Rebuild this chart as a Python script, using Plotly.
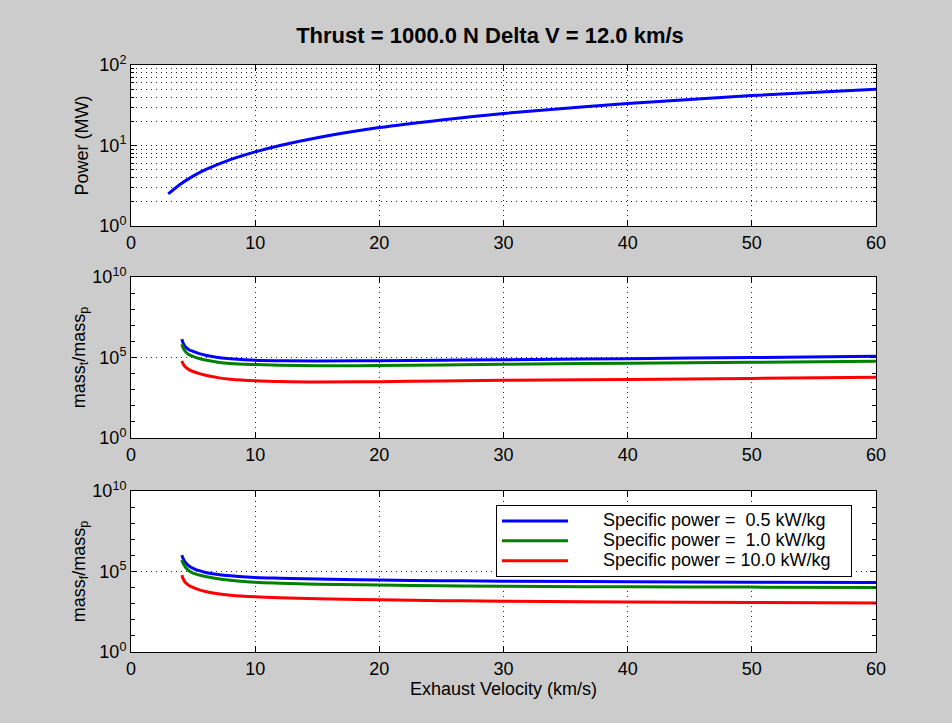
import plotly.graph_objects as go

# ---------------- data ----------------
v_power = [3, 4, 5, 6, 8, 10, 12, 15, 20, 25, 30, 40, 50, 60]
power_mw = [2.5, 3.33, 4.17, 5.0, 6.67, 8.33, 10.0, 12.5, 16.7, 20.8, 25.0, 33.3, 41.7, 50.0]

v_mass = [4.1, 4.2, 4.4, 4.7, 5, 5.5, 6, 7, 8, 10, 12, 15, 20, 25, 30, 40, 50, 60]

# log10 of mass_t/mass_p (middle panel)
mt_log_05 = [6.14, 5.9, 5.65, 5.47, 5.38, 5.24, 5.14, 5.0, 4.93, 4.83, 4.80, 4.79, 4.80, 4.83, 4.86, 4.93, 5.0, 5.07]
mt_log_10 = [5.83, 5.6, 5.35, 5.16, 5.07, 4.94, 4.85, 4.71, 4.63, 4.56, 4.52, 4.49, 4.50, 4.54, 4.58, 4.64, 4.70, 4.77]
mt_log_100 = [4.79, 4.6, 4.4, 4.23, 4.13, 4.0, 3.9, 3.75, 3.65, 3.55, 3.51, 3.48, 3.50, 3.54, 3.58, 3.64, 3.70, 3.77]

# log10 of mass_f/mass_p (bottom panel)
mf_log_05 = [6.02, 5.8, 5.55, 5.33, 5.2, 5.05, 4.94, 4.81, 4.73, 4.63, 4.58, 4.53, 4.47, 4.43, 4.40, 4.37, 4.34, 4.32]
mf_log_10 = [5.73, 5.5, 5.25, 5.03, 4.9, 4.78, 4.69, 4.55, 4.46, 4.33, 4.27, 4.21, 4.16, 4.11, 4.08, 4.05, 4.03, 4.01]
mf_log_100 = [4.78, 4.55, 4.3, 4.12, 4.01, 3.86, 3.76, 3.62, 3.53, 3.43, 3.37, 3.31, 3.24, 3.19, 3.15, 3.10, 3.07, 3.04]

series_names = ["Specific power =  0.5 kW/kg",
                "Specific power =  1.0 kW/kg",
                "Specific power = 10.0 kW/kg"]
series_colors = ["#0000ff", "#008000", "#ff0000"]

x_ticks = [0, 10, 20, 30, 40, 50, 60]

title_text = "Thrust = 1000.0 N Delta V = 12.0 km/s"
x_title = "Exhaust Velocity (km/s)"

# --------------- figure ---------------
W, H = 952, 723
FONT = "Liberation Sans, Arial, Helvetica, sans-serif"
FS = 18

def legend_label(s):
    # keep the double space visible, pad text away from the line sample,
    # and render at full size while the legend rows stay compact
    txt = "\u00a0" * 6 + s.replace("  ", "\u00a0 ") + "\u00a0" * 3
    return '<span style="font-size:18px">' + txt + "</span>"

fig = go.Figure()

fig.add_trace(go.Scatter(x=v_power, y=power_mw, mode="lines", line=dict(color="#0000ff", width=3, shape="spline"),
                         showlegend=False, xaxis="x", yaxis="y"))

for vals, name, col in zip([mt_log_05, mt_log_10, mt_log_100], series_names, series_colors):
    fig.add_trace(go.Scatter(x=v_mass, y=[10 ** e for e in vals], mode="lines",
                             line=dict(color=col, width=3, shape="spline"),
                             showlegend=False, xaxis="x2", yaxis="y2"))

for vals, name, col in zip([mf_log_05, mf_log_10, mf_log_100], series_names, series_colors):
    fig.add_trace(go.Scatter(x=v_mass, y=[10 ** e for e in vals], mode="lines",
                             line=dict(color=col, width=3, shape="spline"),
                             name=legend_label(name), showlegend=True, xaxis="x3", yaxis="y3"))

xdom = [131 / W, 876 / W]
def ydom(top, bot):
    return [1 - bot / H, 1 - top / H]

GRIDC = "#222222"
GDASH = "1px,4px"

common_axis = dict(showline=True, linecolor="black", linewidth=1, mirror="allticks",
                   ticks="inside", tickcolor="black", ticklen=6, automargin=False,
                   tickfont=dict(family=FONT, size=FS, color="black"), zeroline=False)

def xaxis(anchor, title=None):
    d = dict(common_axis, domain=xdom, anchor=anchor, range=[0, 60],
             tickmode="array", tickvals=x_ticks, ticktext=[str(t) for t in x_ticks],
             showgrid=True, gridcolor=GRIDC, griddash=GDASH, gridwidth=1)
    if title:
        d["title"] = dict(text=title, font=dict(family=FONT, size=FS, color="black"), standoff=2)
    return d

# top y axis: decades 1..100, minor grid
minor_top = [m * 10 ** d for d in range(0, 2) for m in range(2, 10)]
y1 = dict(common_axis, domain=ydom(65, 226), anchor="x", type="log", range=[0, 2],
          tickmode="array", tickvals=[1, 10, 100],
          ticktext=["10<sup>0</sup>", "10<sup>1</sup>", "10<sup>2</sup>"],
          showgrid=True, gridcolor=GRIDC, griddash=GDASH, gridwidth=1,
          minor=dict(tickmode="array", tickvals=minor_top, ticks="inside", ticklen=3, tickcolor="black",
                     showgrid=True, gridcolor=GRIDC, griddash=GDASH, gridwidth=1),
          title=dict(text="Power (MW)", font=dict(family=FONT, size=FS, color="black"), standoff=6))

minor_mass = [10 ** d for d in range(1, 10) if d != 5]
def ymass(top, bot, anchor, label):
    return dict(common_axis, domain=ydom(top, bot), anchor=anchor, type="log", range=[0, 10],
                tickmode="array", tickvals=[1, 1e5, 1e10],
                ticktext=["10<sup>0</sup>", "10<sup>5</sup>", "10<sup>10</sup>"],
                showgrid=True, gridcolor=GRIDC, griddash=GDASH, gridwidth=1,
                minor=dict(tickmode="array", tickvals=minor_mass, ticks="inside", ticklen=4,
                           tickcolor="black", showgrid=False),
                title=dict(text=label, font=dict(family=FONT, size=FS, color="black"), standoff=2))

fig.update_layout(
    width=W, height=H,
    paper_bgcolor="#cccccc", plot_bgcolor="white",
    margin=dict(l=0, r=0, t=0, b=0),
    font=dict(family=FONT, size=FS, color="black"),
    title=dict(text="<b>" + title_text + "</b>", x=490 / W, xanchor="center", y=1 - 35 / H, yanchor="middle",
               font=dict(family=FONT, size=22, color="black")),
    xaxis=xaxis("y"),
    yaxis=y1,
    xaxis2=xaxis("y2"),
    yaxis2=ymass(277, 438, "x2", "mass<sub>t</sub>/mass<sub>p</sub>"),
    xaxis3=xaxis("y3", x_title),
    yaxis3=ymass(491, 652, "x3", "mass<sub>f</sub>/mass<sub>p</sub>"),
    legend=dict(x=496 / W, y=1 - 505 / H, xanchor="left", yanchor="top",
                bgcolor="white", bordercolor="black", borderwidth=1,
                font=dict(family=FONT, size=13, color="black"),
                itemwidth=66, tracegroupgap=0),
    showlegend=True,
)

fig.write_html("out.html", config={"displayModeBar": False},
               post_script="document.body.style.margin='0';document.body.style.padding='0';"
                           "document.body.style.background='#cccccc';document.body.style.overflow='hidden';")
